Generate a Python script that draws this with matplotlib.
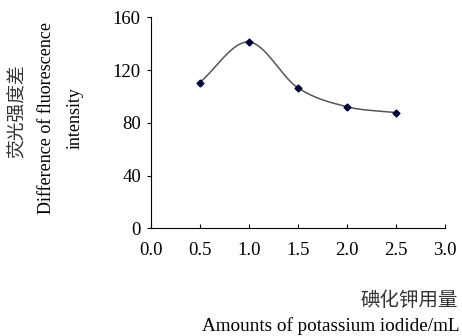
import numpy as np
import matplotlib.pyplot as plt

plt.rcParams['font.family'] = ['Liberation Serif', 'Noto Sans CJK SC']

# data
kI_ml = [0.5, 1.0, 1.5, 2.0, 2.5]
delta_f = [110.5, 141.3, 106.6, 92.2, 87.7]
x_ticks = [0.0, 0.5, 1.0, 1.5, 2.0, 2.5, 3.0]
y_ticks = [0, 40, 80, 120, 160]


def smooth(xs, ys, n=40):
    # Catmull-Rom curve like Excel's "smoothed line"
    xs = np.asarray(xs, float)
    ys = np.asarray(ys, float)
    px = np.concatenate([[2 * xs[0] - xs[1]], xs, [2 * xs[-1] - xs[-2]]])
    py = np.concatenate([[2 * ys[0] - ys[1]], ys, [2 * ys[-1] - ys[-2]]])
    outx, outy = [], []
    t = np.linspace(0, 1, n)
    for i in range(1, len(px) - 2):
        for p, out in ((px, outx), (py, outy)):
            p0, p1, p2, p3 = p[i - 1], p[i], p[i + 1], p[i + 2]
            out.extend(0.5 * (2 * p1 + (-p0 + p2) * t
                              + (2 * p0 - 5 * p1 + 4 * p2 - p3) * t ** 2
                              + (-p0 + 3 * p1 - 3 * p2 + p3) * t ** 3))
    return outx, outy


fig = plt.figure(figsize=(4.62, 3.36), dpi=100)
ax = fig.add_axes([0.326, 0.3205, 0.637, 0.628])

sx, sy = smooth(kI_ml, delta_f)
ax.plot(sx, sy, color='#555555', lw=1.1)
ax.plot(kI_ml, delta_f, ls='none', marker='D', ms=3.5, color='#000033')

ax.set_xlim(0, 3.0)
ax.set_ylim(0, 160)
ax.set_xticks(x_ticks)
ax.set_xticklabels(['%.1f' % v for v in x_ticks])
ax.set_yticks(y_ticks)
ax.spines['top'].set_visible(False)
ax.spines['right'].set_visible(False)
ax.tick_params(axis='x', direction='in', length=3, labelsize=13.5, pad=10)
ax.tick_params(axis='y', direction='out', length=3, labelsize=13.5, pad=4)

fig.text(17 / 462, 1 - 111 / 336, '荧光强度差', rotation=90, ha='center', va='center',
         fontsize=13.5, family=['Noto Sans CJK SC'], weight='light', color='#333333')
fig.text(47 / 462, 1 - 118 / 336, 'Difference of fluorescence', rotation=90,
         ha='center', va='center', fontsize=13)
fig.text(75 / 462, 1 - 118 / 336, 'intensity', rotation=90,
         ha='center', va='center', fontsize=13)
fig.text(458 / 462, 1 - 300 / 336, '碘化钾用量', ha='right', va='center',
         fontsize=14, family=['Noto Sans CJK SC'], weight='light', color='#333333')
fig.text(460 / 462, 1 - 326 / 336, 'Amounts of potassium iodide/mL', ha='right',
         va='center', fontsize=13.8)

fig.savefig('out.png', dpi=100)
